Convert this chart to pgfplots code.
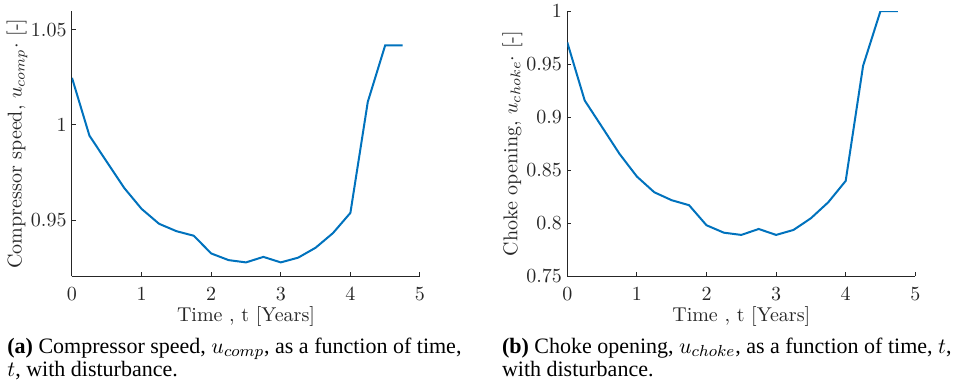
\documentclass[border=0pt]{standalone}
\usepackage{pgfplots}
\pgfplotsset{compat=1.18}
\usepackage{fontspec}
\newfontfamily\capfont{Liberation Serif}
\definecolor{mblue}{RGB}{0,114,189}
\definecolor{axgray}{RGB}{38,38,38}
\pgfplotsset{
  myaxis/.style={
    scale only axis, width=174pt, height=132.65pt,
    axis x line=bottom, axis y line=left,
    axis line style={-, draw=axgray, line width=0.5pt},
    tick align=inside, major tick length=2pt,
    tick style={draw=axgray, line width=0.5pt},
    xmin=0, xmax=5, xtick={0,1,2,3,4,5},
    tick label style={font=\fontsize{10}{12}\selectfont, text=axgray},
    xticklabel style={yshift=-2pt},
    yticklabel style={xshift=0.8pt},
    every axis x label/.style={at={(axis description cs:0.5,0)}, anchor=base, yshift=-22.7pt, font=\fontsize{10}{12}\selectfont, text=axgray},
    every axis y label/.style={at={(axis description cs:-0.158,0.5)}, anchor=center, rotate=90, font=\fontsize{10}{12}\selectfont, text=axgray},
    xlabel={Time , t [Years]},
  }
}
\begin{document}
\begin{tikzpicture}
\path[use as bounding box] (0,0) rectangle (480pt,194pt);
\begin{axis}[myaxis, at={(36pt,55.85pt)}, anchor=south west,
  ymin=0.9205, ymax=1.0598, ytick={0.95,1,1.05},
  ylabel={Compressor speed, $u_{comp}\cdot$ [-]}]
\addplot[mblue, line width=1pt] coordinates {
(0,1.0247) (0.25,0.9944) (0.5,0.9806) (0.75,0.9669) (1,0.9559)
(1.25,0.9481) (1.5,0.9442) (1.75,0.9418) (2,0.9325) (2.25,0.9290)
(2.5,0.9278) (2.75,0.9307) (3,0.9278) (3.25,0.9303) (3.5,0.9355)
(3.75,0.9432) (4,0.9538) (4.25,1.0121) (4.5,1.0418) (4.75,1.0418)};
\end{axis}
\begin{axis}[myaxis, at={(283.65pt,55.85pt)}, anchor=south west,
  ymin=0.75, ymax=1, ytick={0.75,0.8,0.85,0.9,0.95,1},
  ylabel={Choke opening, $u_{choke}\cdot$ [-]}]
\addplot[mblue, line width=1pt] coordinates {
(0,0.9704) (0.25,0.9157) (0.5,0.8906) (0.75,0.8654) (1,0.8440)
(1.25,0.8292) (1.5,0.8217) (1.75,0.8170) (2,0.7981) (2.25,0.7911)
(2.5,0.7890) (2.75,0.7946) (3,0.7890) (3.25,0.7937) (3.5,0.8047)
(3.75,0.8198) (4,0.8399) (4.25,0.9484) (4.5,1.0) (4.75,1.0)};
\end{axis}
\node[anchor=base west, inner sep=0pt, font=\capfont\fontsize{11}{13}\selectfont] at (3.5pt,17.5pt)
  {\textbf{(a)} Compressor speed, $u_{comp}$, as a function of time,};
\node[anchor=base west, inner sep=0pt, font=\capfont\fontsize{11}{13}\selectfont] at (3.5pt,5.65pt)
  {$t$, with disturbance.};
\node[anchor=base west, inner sep=0pt, font=\capfont\fontsize{11}{13}\selectfont] at (250.8pt,17.5pt)
  {\textbf{(b)} Choke opening, $u_{choke}$, as a function of time, $t$,};
\node[anchor=base west, inner sep=0pt, font=\capfont\fontsize{11}{13}\selectfont] at (250.8pt,5.65pt)
  {with disturbance.};
\end{tikzpicture}
\end{document}
